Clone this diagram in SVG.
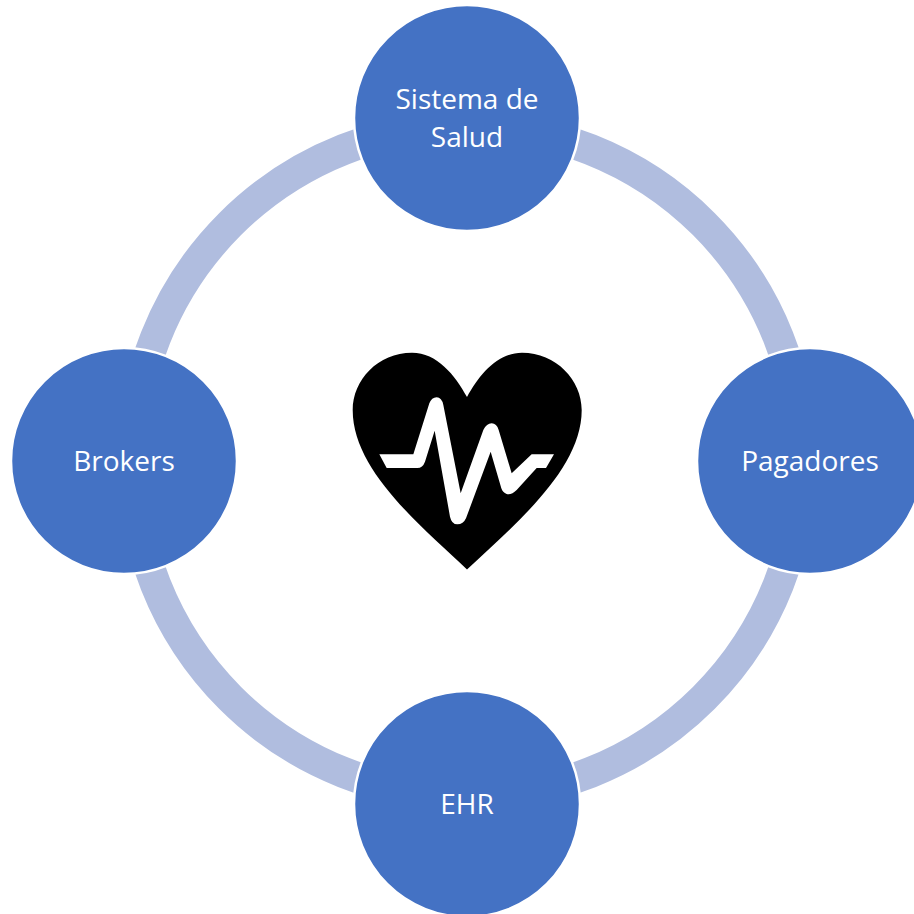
<svg xmlns="http://www.w3.org/2000/svg" width="914" height="914" viewBox="0 0 914 914">
<style>
.node{fill:#4472c4;stroke:#fff;stroke-width:2.5}
.lbl{font-family:"Open Sans","Noto Sans",sans-serif;font-size:28px;fill:#fff;text-anchor:middle}
</style>
<rect width="914" height="914" fill="#fff"/>
<g id="connectors">
<circle cx="467" cy="461" r="335" fill="none" stroke="#b0bddf" stroke-width="31"/>
</g>
<g id="node-sistema"><circle class="node" cx="467" cy="118" r="113"/><text class="lbl" x="467" y="109">Sistema de</text><text class="lbl" x="467" y="147">Salud</text></g>
<g id="node-pagadores"><circle class="node" cx="810" cy="461" r="113"/><text class="lbl" x="810" y="471">Pagadores</text></g>
<g id="node-ehr"><circle class="node" cx="467" cy="804" r="113"/><text class="lbl" x="467" y="814">EHR</text></g>
<g id="node-brokers"><circle class="node" cx="124" cy="461" r="113"/><text class="lbl" x="124" y="471">Brokers</text></g>
<g id="heart">
<path fill="#000" d="M467 397C455 375 437 352.700 412 352.700C378 352.700 352.700 380 352.700 410C352.700 470 420 525 467 569.500C514 525 581.700 470 581.700 410C581.700 380 556 352.700 522 352.700C497 352.700 479 375 467 397Z"/>
<path fill="#fff" transform="translate(340 340) scale(.33333)" d="M118 343L220 343L268 190Q275 172 290 172Q305 172 310 195L362 460L430 270Q440 250 455 250Q470 250 476 270L515 400L575 343L642 343L618 384L590 384L530 450Q515 465 500 462Q488 458 484 445L452 335L378 535Q370 553 352 553Q335 553 330 530L284 272L255 365Q248 384 232 384L140 384Z"/>
</g>
</svg>
